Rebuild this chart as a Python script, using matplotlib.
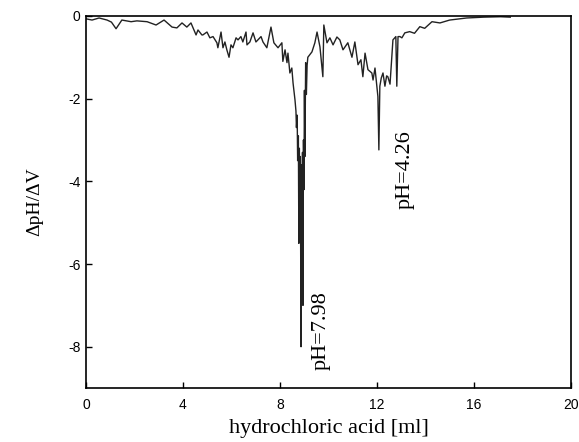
import matplotlib
matplotlib.use("Agg")
import matplotlib.pyplot as plt

plt.rcParams['axes.unicode_minus'] = False

# titration data: volume of HCl [ml] and dpH/dV
volume = [0.00, 0.25, 0.54, 0.87, 1.05, 1.24, 1.48, 1.86, 2.10, 2.52, 2.89, 3.22, 3.55, 3.75,
          3.96, 4.16, 4.33, 4.54, 4.62, 4.78,
          4.82, 4.99, 5.11, 5.24, 5.40, 5.44, 5.57, 5.65, 5.73, 5.81, 5.90, 5.98, 6.06, 6.19,
          6.27, 6.39, 6.47, 6.60, 6.64, 6.76, 6.89, 7.01, 7.09, 7.22, 7.30, 7.46, 7.63, 7.75,
          7.92, 8.08, 8.12, 8.21, 8.29, 8.33, 8.41, 8.49, 8.54, 8.62, 8.66,
          8.68, 8.71, 8.73, 8.76, 8.78, 8.80, 8.82, 8.84, 8.87, 8.89, 8.91, 8.93, 8.95, 8.97,
          8.99, 9.01, 9.03, 9.06, 9.09, 9.12, 9.15,
          9.32, 9.44, 9.53, 9.65, 9.77, 9.81, 9.94, 10.06, 10.19, 10.35, 10.47, 10.60, 10.80,
          10.97, 11.09, 11.22, 11.34, 11.42, 11.51, 11.63, 11.79, 11.84, 11.92, 12.04, 12.08,
          12.12, 12.18, 12.25, 12.33, 12.40, 12.45, 12.54, 12.66, 12.78, 12.82, 12.87,
          12.95, 13.03, 13.15, 13.35, 13.55, 13.77, 13.97, 14.27, 14.60, 15.00, 15.70, 16.40,
          17.10, 17.50]
dphdv = [-0.07, -0.10, -0.05, -0.10, -0.15, -0.31, -0.10, -0.14, -0.12, -0.14, -0.22, -0.10,
         -0.27, -0.29, -0.17, -0.27, -0.17, -0.46, -0.34, -0.46,
         -0.46, -0.39, -0.53, -0.50, -0.65, -0.77, -0.39, -0.77, -0.63, -0.82, -1.00, -0.70,
         -0.77, -0.53, -0.58, -0.50, -0.63, -0.39, -0.70, -0.63, -0.41, -0.63, -0.58, -0.50,
         -0.63, -0.77, -0.27, -0.65, -0.77, -0.65, -1.10, -0.82, -1.13, -0.90, -1.38, -1.26,
         -1.62, -2.03, -2.30,
         -2.70, -2.40, -3.50, -2.90, -5.50, -3.20, -4.60, -3.40, -8.00, -3.60, -6.00, -3.30,
         -7.00, -3.00, -4.20, -1.80, -3.40, -1.13, -1.90, -1.20, -1.00,
         -0.87, -0.65, -0.39, -0.75, -1.47, -0.22, -0.65, -0.53, -0.70, -0.51, -0.58, -0.82,
         -0.65, -1.00, -0.63, -1.18, -1.06, -1.47, -0.90, -1.30, -1.38, -1.55, -1.26, -1.95,
         -3.24, -1.70, -1.50, -1.38, -1.70, -1.45, -1.47, -1.65, -0.58, -0.50, -1.70, -0.50,
         -0.50, -0.53, -0.41, -0.38, -0.42, -0.26, -0.30, -0.14, -0.17, -0.10, -0.05, -0.03,
         -0.02, -0.03]

x_ticks = [0, 4, 8, 12, 16, 20]
y_ticks = [0, -2, -4, -6, -8]

serif = "Liberation Serif"
sans = "Liberation Sans"

fig = plt.figure(figsize=(5.79, 4.42), dpi=100)
ax = fig.add_axes([0.1485, 0.122, 0.8375, 0.842])

ax.plot(volume, dphdv, color="#222222", linewidth=1.0)

ax.set_xlim(0, 20)
ax.set_ylim(-9, 0)
ax.set_xticks(x_ticks)
ax.set_yticks(y_ticks)
ax.tick_params(direction="in", length=4, width=1, labelsize=10)
ax.tick_params(axis="x", pad=7)
ax.tick_params(axis="y", pad=4)
for lab in ax.get_xticklabels() + ax.get_yticklabels():
    lab.set_fontfamily(sans)
for sp in ax.spines.values():
    sp.set_linewidth(1.2)

ax.set_xlabel("hydrochloric acid [ml]", fontsize=16, family=serif, labelpad=5)
ax.set_ylabel("ΔpH/ΔV", fontsize=14, family=serif, labelpad=18)

ax.text(9.7, -7.6, "pH=7.98", rotation=90, fontsize=16, family=serif,
        ha="center", va="center")
ax.text(13.15, -3.72, "pH=4.26", rotation=90, fontsize=16, family=serif,
        ha="center", va="center")

fig.savefig("out.png", dpi=100)
